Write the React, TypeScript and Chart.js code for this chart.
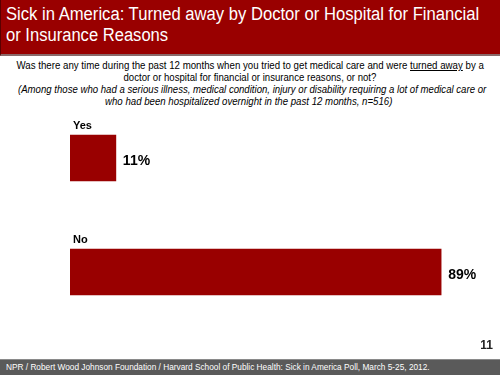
import React, { useEffect, useLayoutEffect, useRef } from "react";
import { Chart, registerables } from "chart.js";

Chart.register(...registerables);

const categories: string[] = ["Yes", "No"];
const values: number[] = [11, 89];
const valueLabels: string[] = ["11%", "89%"];

const titleLines: string[] = [
  "Sick in America: Turned away by Doctor or Hospital for Financial",
  "or Insurance Reasons",
];
const footerText =
  "NPR / Robert Wood Johnson Foundation / Harvard School of Public Health: Sick in America Poll, March 5-25, 2012.";
const pageNumber = "11";

const FONT = "'Liberation Sans', Arial, sans-serif";
const RED = "#990000";

const labelPlugin = {
  id: "barLabels",
  afterDatasetsDraw(chart: any) {
    const ctx = chart.ctx;
    const meta = chart.getDatasetMeta(0);
    ctx.save();
    meta.data.forEach((bar: any, i: number) => {
      const half = bar.height / 2;
      ctx.fillStyle = "#000";
      ctx.font = `bold 11px ${FONT}`;
      ctx.textAlign = "left";
      ctx.textBaseline = "alphabetic";
      ctx.fillText(categories[i], bar.base + 3, bar.y - half - 6);
      ctx.font = `bold 14px ${FONT}`;
      ctx.textBaseline = "middle";
      ctx.fillText(valueLabels[i], bar.x + 7, bar.y + 3);
    });
    ctx.restore();
  },
};

function FitLine(props: {
  left: number;
  top: number;
  width: number;
  align?: "left" | "center";
  style?: React.CSSProperties;
  children: React.ReactNode;
}) {
  const ref = useRef<HTMLSpanElement | null>(null);
  useLayoutEffect(() => {
    const el = ref.current;
    if (!el) return;
    const w = el.offsetWidth;
    if (w > 0) el.style.transform = `scaleX(${props.width / w})`;
  });
  return (
    <div
      style={{
        position: "absolute",
        left: props.left,
        top: props.top,
        width: props.width,
        textAlign: props.align || "left",
        whiteSpace: "nowrap",
        overflow: "visible",
        fontSize: 0,
        lineHeight: 0,
      }}
    >
      <span
        ref={ref}
        style={{
          display: "inline-block",
          verticalAlign: "top",
          whiteSpace: "nowrap",
          transformOrigin: props.align === "center" ? "50% 50%" : "0 50%",
          marginLeft: props.align === "center" ? -1000 : 0,
          marginRight: props.align === "center" ? -1000 : 0,
          ...props.style,
        }}
      >
        {props.children}
      </span>
    </div>
  );
}

export default function App() {
  const canvasRef = useRef<HTMLCanvasElement | null>(null);

  useEffect(() => {
    document.body.style.margin = "0";
    const canvas = canvasRef.current;
    if (!canvas) return;
    const chart = new Chart(canvas, {
      type: "bar",
      data: {
        labels: categories,
        datasets: [
          {
            data: values,
            backgroundColor: RED,
            borderWidth: 0,
            barThickness: 46,
          },
        ],
      },
      options: {
        indexAxis: "y",
        responsive: false,
        animation: false,
        layout: { padding: { left: 70, right: 13, top: 101, bottom: 46 } },
        scales: {
          x: { display: false, min: 0, max: 100 },
          y: { display: false },
        },
        plugins: {
          legend: { display: false },
          tooltip: { enabled: false },
          title: { display: false },
        },
      },
      plugins: [labelPlugin],
    });
    return () => chart.destroy();
  }, []);

  const titleStyle: React.CSSProperties = { color: "#fff", fontSize: 18, lineHeight: "20px" };
  const subStyle: React.CSSProperties = { color: "#000", fontSize: 11, lineHeight: "12px" };
  const subItalic: React.CSSProperties = { ...subStyle, fontStyle: "italic" };

  return (
    <div
      style={{
        position: "absolute",
        left: 0,
        top: 0,
        width: 500,
        height: 375,
        background: "#fff",
        overflow: "hidden",
        fontFamily: FONT,
      }}
    >
      <div
        style={{
          position: "absolute",
          left: 0,
          top: 0,
          width: 500,
          height: 56,
          background: RED,
          borderLeft: "1px solid #5a0000",
          borderBottom: "2px solid #8a6a6a",
          boxSizing: "border-box",
        }}
      />
      <FitLine left={6} top={4} width={473} style={titleStyle}>
        {titleLines[0]}
      </FitLine>
      <FitLine left={6} top={25} width={162} style={titleStyle}>
        {titleLines[1]}
      </FitLine>

      <FitLine left={17} top={59} width={467} align="center" style={subStyle}>
        Was there any time during the past 12 months when you tried to get medical care and were{" "}
        <span style={{ textDecoration: "underline" }}>turned away</span> by a
      </FitLine>
      <FitLine left={123} top={71} width={253} align="center" style={subStyle}>
        doctor or hospital for financial or insurance reasons, or not?
      </FitLine>
      <FitLine left={18} top={83} width={468} align="center" style={subItalic}>
        (Among those who had a serious illness, medical condition, injury or disability requiring a lot of medical care or
      </FitLine>
      <FitLine left={105} top={95} width={287} align="center" style={subItalic}>
        who had been hospitalized overnight in the past 12 months, n=516)
      </FitLine>

      <canvas
        ref={canvasRef}
        width={500}
        height={375}
        style={{ position: "absolute", left: 0, top: 0, width: 500, height: 375 }}
      />
      <div
        style={{
          position: "absolute",
          right: 7,
          top: 338,
          fontSize: 12,
          fontWeight: "bold",
          color: "#222",
        }}
      >
        {pageNumber}
      </div>
      <div
        style={{
          position: "absolute",
          left: 0,
          top: 359,
          width: 500,
          height: 16,
          background: "#5a5a5a",
          borderTop: "1px solid #8a8a8a",
          boxSizing: "border-box",
        }}
      />
      <FitLine
        left={6}
        top={361}
        width={424}
        style={{ color: "#fff", fontSize: 9, lineHeight: "13px" }}
      >
        {footerText}
      </FitLine>
    </div>
  );
}
